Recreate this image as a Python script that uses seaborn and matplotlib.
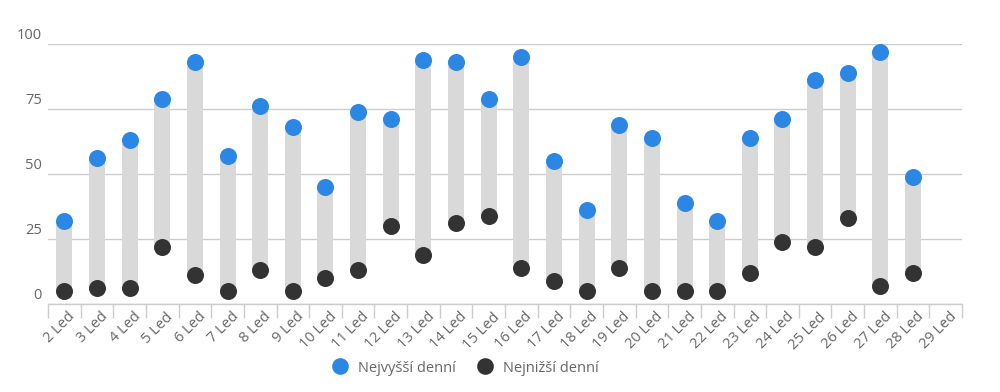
import numpy as np
import pandas as pd
import matplotlib
matplotlib.use("Agg")
import matplotlib.pyplot as plt
from matplotlib.transforms import ScaledTranslation
from matplotlib.lines import Line2D
import seaborn as sns

categories = ["2 Led", "3 Led", "4 Led", "5 Led", "6 Led", "7 Led", "8 Led", "9 Led",
              "10 Led", "11 Led", "12 Led", "13 Led", "14 Led", "15 Led", "16 Led",
              "17 Led", "18 Led", "19 Led", "20 Led", "21 Led", "22 Led", "23 Led",
              "24 Led", "25 Led", "26 Led", "27 Led", "28 Led", "29 Led"]
high = [32, 56, 63, 79, 93, 57, 76, 68, 45, 74, 71, 94, 93, 79, 95, 55, 36, 69,
        64, 39, 32, 64, 71, 86, 89, 97, 49, np.nan]
low = [5, 6, 6, 22, 11, 5, 13, 5, 10, 13, 30, 19, 31, 34, 14, 9, 5, 14,
       5, 5, 5, 12, 24, 22, 33, 7, 12, np.nan]
series_names = ["Nejvyšší denní", "Nejnižší denní"]
y_ticks = [0, 25, 50, 75, 100]

BLUE = "#2b87e3"
DARK = "#333333"
BAR = "#d9d9d9"
GRID = "#cccccc"
TXT = "#666666"

sns.set_theme(style="white")
plt.rcParams["font.family"] = ["Open Sans", "DejaVu Sans"]

df = pd.DataFrame({"cat": categories, "high": high, "low": low})
df["x"] = np.arange(len(df))

fig = plt.figure(figsize=(10, 3.92), dpi=100)
ax = fig.add_axes([0.048, 1 - 304 / 392, 0.914, (304 - 44) / 392])

valid = df.dropna()
ax.bar(valid["x"], valid["high"] - valid["low"], bottom=valid["low"],
       width=0.49, color=BAR, zorder=2, linewidth=0)
sns.scatterplot(data=valid, x="x", y="high", ax=ax, color=BLUE, s=150,
                linewidth=0, zorder=3, clip_on=False, legend=False)
sns.scatterplot(data=valid, x="x", y="low", ax=ax, color=DARK, s=150,
                linewidth=0, zorder=3, clip_on=False, legend=False)

ax.set_xlim(-0.5, len(categories) - 0.5)
ax.set_ylim(0, 100)
ax.set_xlabel("")
ax.set_ylabel("")

# gridlines
ax.set_yticks(y_ticks)
ax.yaxis.grid(True, color=GRID, linewidth=1)
ax.set_axisbelow(True)
ax.tick_params(axis="y", length=0, pad=4.5, labelsize=10.5, labelcolor=TXT)
for lab in ax.get_yticklabels():
    lab.set_transform(lab.get_transform() + ScaledTranslation(0, 7.5 / 72, fig.dpi_scale_trans))

# x axis
ax.set_xticks(np.arange(len(categories)))
ax.set_xticklabels(categories, rotation=45, ha="right", va="top",
                   rotation_mode="anchor", fontsize=10.5, color=TXT)
ax.set_xticks(np.arange(len(categories) + 1) - 0.5, minor=True)
ax.tick_params(axis="x", which="major", length=0, pad=4)
ax.tick_params(axis="x", which="minor", length=10, color=GRID, width=1, bottom=True)
for lab in ax.get_xticklabels():
    lab.set_transform(lab.get_transform() + ScaledTranslation(2.5 / 72, 0, fig.dpi_scale_trans))

for s in ["top", "right", "left"]:
    ax.spines[s].set_visible(False)
ax.spines["bottom"].set_color(GRID)
ax.spines["bottom"].set_linewidth(1)

handles = [Line2D([], [], marker="o", linestyle="", markersize=12, color=BLUE, markeredgewidth=0),
           Line2D([], [], marker="o", linestyle="", markersize=12, color=DARK, markeredgewidth=0)]
leg = fig.legend(handles, series_names, loc="center", bbox_to_anchor=(0.465, 1 - 368 / 392),
                 ncol=2, frameon=False, fontsize=10.5, handletextpad=0.6,
                 columnspacing=1.4, handlelength=1.2)
for t in leg.get_texts():
    t.set_color(TXT)

fig.savefig("out.png", dpi=100)
